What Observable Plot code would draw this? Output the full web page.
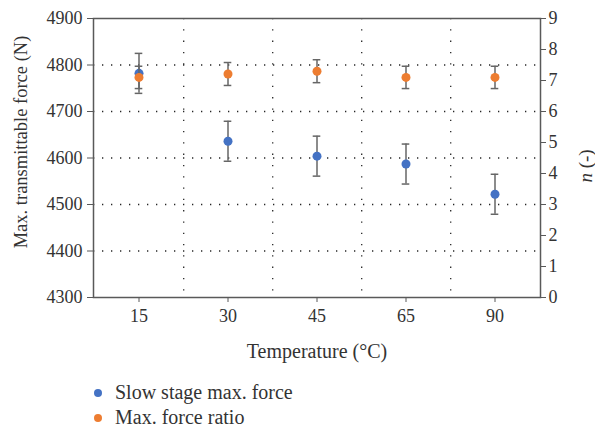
<!DOCTYPE html>
<html><head><meta charset="utf-8">
<script src="https://cdn.jsdelivr.net/npm/d3@7"></script>
<script src="https://cdn.jsdelivr.net/npm/@observablehq/plot@0.6"></script>
<style>
body{margin:0;background:#fff;font-family:"Liberation Serif",serif;}
#wrap{width:595px;height:431px;overflow:hidden;}
#wrap svg{display:block;}
</style></head><body><div id="wrap"></div>
<script>
const temperatures = ["15", "30", "45", "65", "90"];
const slowForce = [4782, 4636, 4604, 4587, 4522];
const slowForceErr = [43, 43, 43, 43, 43];
const forceRatio = [7.10, 7.21, 7.30, 7.10, 7.10];
const forceRatioErr = [0.36, 0.37, 0.37, 0.36, 0.36];
const leftTicks = [4300, 4400, 4500, 4600, 4700, 4800, 4900];
const rightTicks = [0, 1, 2, 3, 4, 5, 6, 7, 8, 9];
const seriesNames = ["Slow stage max. force", "Max. force ratio"];
const seriesColors = ["#4472C4", "#ED7D31"];

const W = 595, H = 365, mL = 93, mR = 55, mT = 18, mB = 68;
const bw = (W - mL - mR) / temperatures.length;
const toLeft = d3.scaleLinear([0, 9], [4300, 4900]);
const FONT = "Liberation Serif, serif";

const blue = temperatures.map((t, i) => ({t, v: slowForce[i], lo: slowForce[i] - slowForceErr[i], hi: slowForce[i] + slowForceErr[i]}));
const orange = temperatures.map((t, i) => ({t, v: toLeft(forceRatio[i]), lo: toLeft(forceRatio[i] - forceRatioErr[i]), hi: toLeft(forceRatio[i] + forceRatioErr[i])}));

const errMarks = (data) => [
  Plot.ruleX(data, {x: "t", y1: "lo", y2: "hi", stroke: "#666", strokeWidth: 1.5}),
  Plot.tickY(data, {x: "t", y: "lo", stroke: "#666", strokeWidth: 1.5, insetLeft: bw/2 - 4, insetRight: bw/2 - 4}),
  Plot.tickY(data, {x: "t", y: "hi", stroke: "#666", strokeWidth: 1.5, insetLeft: bw/2 - 4, insetRight: bw/2 - 4})
];

const chart = Plot.plot({
  width: W, height: H,
  marginLeft: mL, marginRight: mR, marginTop: mT, marginBottom: mB,
  style: {fontFamily: FONT, fontSize: "18px", color: "#333", background: "#fff"},
  x: {type: "band", domain: temperatures, padding: 0},
  y: {domain: [4300, 4900]},
  marks: [
    Plot.gridY(leftTicks.slice(1, -1), {stroke: "#000", strokeOpacity: 0.85, strokeWidth: 1.3, strokeDasharray: "1.3,7.7"}),
    Plot.ruleX(temperatures.slice(0, -1), {dx: bw/2, stroke: "#000", strokeOpacity: 0.85, strokeWidth: 1.3, strokeDasharray: "1.3,10"}),
    Plot.axisX({tickSize: 5, tickPadding: 7, stroke: "#595959", label: null}),
    Plot.axisY({anchor: "left", ticks: leftTicks, tickSize: 6, tickPadding: 5, stroke: "#595959", tickFormat: d => String(d), label: null}),
    Plot.axisY({anchor: "right", ticks: rightTicks.map(d => toLeft(d)), tickSize: 5, tickPadding: 3, stroke: "#595959", tickFormat: d => String(Math.round(toLeft.invert(d))), label: null}),
    Plot.text(["Temperature (°C)"], {frameAnchor: "bottom", dy: 54, textAnchor: "middle", lineAnchor: "middle", fill: "#333", fontSize: 20}),
    Plot.text(["Max. transmittable force (N)"], {frameAnchor: "left", rotate: -90, dx: -72, dy: -16, textAnchor: "middle", lineAnchor: "middle", fill: "#333", fontSize: 18.5}),
    Plot.text(["n (-)"], {frameAnchor: "right", rotate: -90, dx: 45, dy: 8, textAnchor: "middle", lineAnchor: "middle", fill: "#333", fontSize: 19}),
    Plot.frame({stroke: "#595959", strokeWidth: 1.5}),
    ...errMarks(blue),
    Plot.dot(blue, {x: "t", y: "v", r: 4.5, fill: seriesColors[0], stroke: "none"}),
    ...errMarks(orange),
    Plot.dot(orange, {x: "t", y: "v", r: 4.5, fill: seriesColors[1], stroke: "none"})
  ]
});
const wrap = document.getElementById("wrap");
wrap.appendChild(chart);
d3.select(chart).selectAll("text").each(function() {
  if (this.textContent === "n (-)" && !this.querySelector("tspan")) {
    const s = d3.select(this); s.text("");
    s.append("tspan").attr("font-style", "italic").text("n");
    s.append("tspan").text(" (-)");
  }
});
// legend below the plot
const leg = d3.create("svg").attr("width", W).attr("height", 431 - H)
  .attr("font-family", FONT).attr("font-size", 20).attr("fill", "#333");
seriesNames.forEach((name, i) => {
  const g = leg.append("g").attr("transform", `translate(98,${28 + i * 25})`);
  g.append("circle").attr("r", 4).attr("fill", seriesColors[i]);
  g.append("text").attr("x", 17).attr("dy", "0.32em").text(name);
});
wrap.appendChild(leg.node());
</script></body></html>
